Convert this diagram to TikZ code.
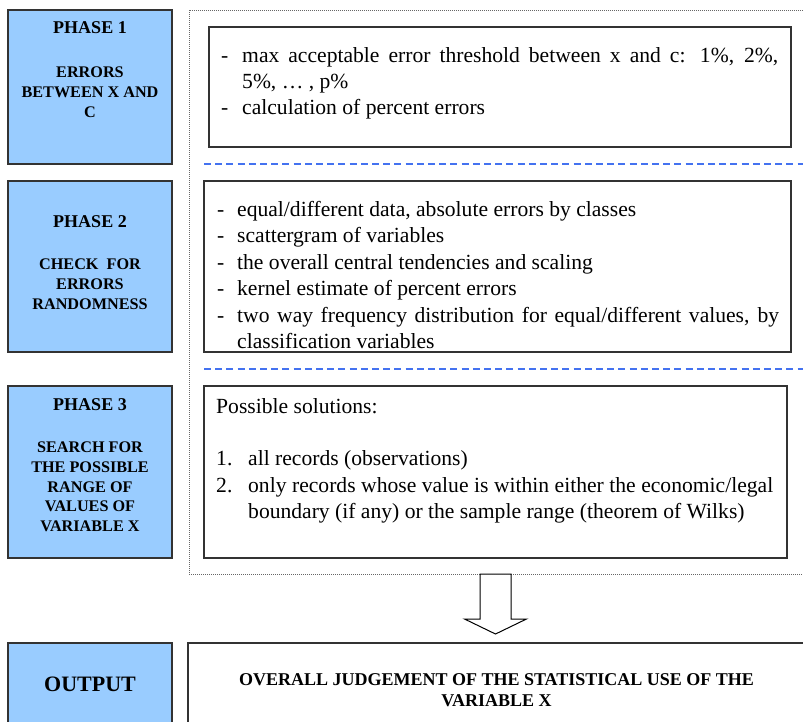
\documentclass[tikz,border=0pt]{standalone}
\usepackage{fontspec}
\setmainfont{Liberation Serif}
\usetikzlibrary{calc}
\definecolor{phaseblue}{HTML}{99CCFF}
\definecolor{dashblue}{HTML}{4472F0}
\definecolor{edge}{HTML}{333333}
\newlength\dind
\newcommand\ditem[2]{\par\noindent\hangindent=\dind\hangafter=1\strut\makebox[\dind][l]{#1}#2\par}
\tikzset{
  bluebox/.style={draw=edge, line width=1.2bp, fill=phaseblue, inner sep=0pt, outer sep=0pt, anchor=north west},
  whitebox/.style={draw=edge, line width=1.2bp, fill=white, inner sep=0pt, outer sep=0pt, anchor=north west},
  dotframe/.style={draw=black!60, line width=0.8bp, dash pattern=on 0.9bp off 1.1bp, inner sep=0pt, outer sep=0pt, anchor=north west},
  sepline/.style={draw=dashblue, line width=1.8bp, dash pattern=on 7bp off 4.2bp},
  phasetitle/.style={anchor=base, inner sep=0pt, font=\fontsize{18bp}{21bp}\selectfont\bfseries},
  phasedesc/.style={anchor=north, inner sep=0pt, align=center, font=\fontsize{16.2bp}{19.9bp}\selectfont\bfseries},
  bodytext/.style={anchor=north west, inner sep=0pt, align=justify, font=\fontsize{21.6bp}{26.4bp}\selectfont},
  blockarrow/.style={draw=black, line width=1bp, fill=white, line join=miter}
}
\begin{document}
\begin{tikzpicture}[x=1bp,y=-1bp]
\useasboundingbox (0,0) rectangle (803,722);
% dotted frame around the three phases
\node[dotframe, minimum width=617bp, minimum height=564bp] (frame) at (189,10) {};
% blue phase boxes
\node[bluebox, minimum width=164bp, minimum height=154bp] (b1) at (8,10) {};
\node[bluebox, minimum width=164bp, minimum height=171bp] (b2) at (8,181) {};
\node[bluebox, minimum width=164bp, minimum height=172bp] (b3) at (8,386) {};
\node[bluebox, minimum width=164bp, minimum height=110bp] (b4) at (8,643) {};
% white content boxes
\node[whitebox, minimum width=582bp, minimum height=120bp] (w1) at (209,27) {};
\node[whitebox, minimum width=587bp, minimum height=171bp] (w2) at (204,181) {};
\node[whitebox, minimum width=583bp, minimum height=172bp] (w3) at (204,386) {};
\node[whitebox, minimum width=617bp, minimum height=110bp] (w4) at (188,643) {};
% dashed separators
\coordinate (s1a) at (204,164); \coordinate (s1b) at (806,164);
\coordinate (s2a) at (204,369); \coordinate (s2b) at (806,369);
\draw[sepline] (s1a) -- (s1b);
\draw[sepline] (s2a) -- (s2b);
% phase titles
\node[phasetitle] (p1t) at (90,34) {PHASE 1};
\node[phasedesc] (p1d) at (90,63.1) {\strut ERRORS\\BETWEEN X AND\\C};
\node[phasetitle] (p2t) at (90,227) {PHASE 2};
\node[phasedesc] (p2d) at (90,255.1) {\strut CHECK~~FOR\\ERRORS\\RANDOMNESS};
\node[phasetitle] (p3t) at (90,410) {PHASE 3};
\node[phasedesc] (p3d) at (90,438.1) {\strut SEARCH FOR\\THE POSSIBLE\\RANGE OF\\VALUES OF\\VARIABLE X};
% body texts
\node[bodytext, text width=557bp] (x1) at (221,35.5) {\hyphenpenalty=10000\exhyphenpenalty=10000\setlength\dind{21bp}%
\ditem{-}{max acceptable error threshold between x and c: 1\%, 2\%,\linebreak 5\%, … , p\%}%
\ditem{-}{calculation of percent errors}};
\node[bodytext, text width=562bp] (x2) at (217,189.8) {\hyphenpenalty=10000\exhyphenpenalty=10000\setlength\dind{20bp}%
\ditem{-}{equal/different data, absolute errors by classes}%
\ditem{-}{scattergram of variables}%
\ditem{-}{the overall central tendencies and scaling}%
\ditem{-}{kernel estimate of percent errors}%
\ditem{-}{two way frequency distribution for equal/different values, by\linebreak classification variables}};
\node[bodytext, text width=557bp] (x3) at (216,394.5) {\hyphenpenalty=10000\exhyphenpenalty=10000\setlength\dind{32bp}%
\noindent\strut Possible solutions:\par
\noindent\strut\par
\ditem{1.}{all records (observations)}%
\ditem{2.}{only records whose value is within either the economic/legal\linebreak boundary (if any) or the sample range (theorem of Wilks)}};
% output
\node[anchor=base, inner sep=0pt, font=\fontsize{22bp}{26bp}\selectfont\bfseries] (outl) at (90,691) {OUTPUT};
\node[anchor=north, inner sep=0pt, align=center, font=\fontsize{18bp}{21bp}\selectfont\bfseries] (outt) at (496.5,670.3) {\strut OVERALL JUDGEMENT OF THE STATISTICAL USE OF THE\\VARIABLE X};
% block arrow from the phases to the output
\coordinate (arrtop) at (495.5,574);
\coordinate (arrtip) at (495.5,634);
\draw[blockarrow] ($(arrtop)+(-15.5,0)$) -- ($(arrtop)+(15.5,0)$) -- ($(arrtop)+(15.5,45)$) -- ($(arrtop)+(31,45)$) -- (arrtip) -- ($(arrtop)+(-31,45)$) -- ($(arrtop)+(-15.5,45)$) -- cycle;
\end{tikzpicture}
\end{document}
